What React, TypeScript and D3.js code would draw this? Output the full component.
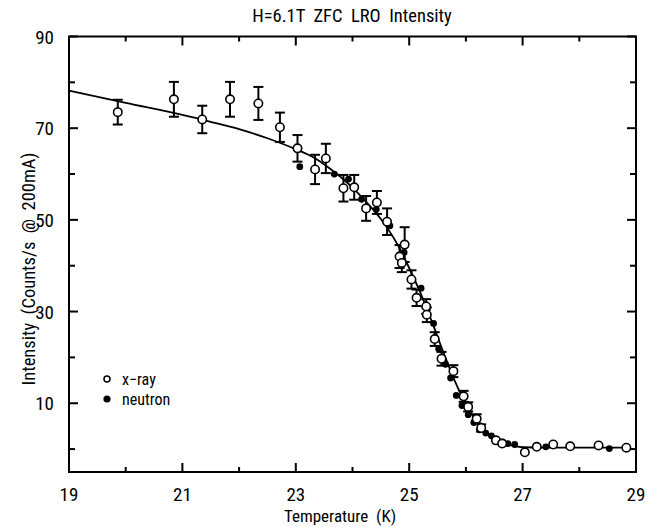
import React from "react";
import * as d3 from "d3";

const xrayT = [19.86, 20.85, 21.35, 21.84, 22.34, 22.72, 23.03, 23.34, 23.53, 23.84, 24.03, 24.24, 24.43, 24.61, 24.83, 24.87, 24.92, 25.04, 25.13, 25.3, 25.31, 25.45, 25.57, 25.78, 25.96, 26.04, 26.19, 26.27, 26.53, 26.64, 27.04, 27.25, 27.54, 27.84, 28.34, 28.83];
const xrayI = [73.5, 76.3, 71.9, 76.3, 75.4, 70.2, 65.6, 61.0, 63.4, 56.9, 57.1, 52.5, 53.8, 49.6, 42.0, 40.6, 44.6, 37.0, 33.0, 31.1, 29.3, 24.0, 19.7, 17.0, 11.5, 9.2, 6.6, 4.6, 1.9, 1.2, -0.7, 0.5, 1.0, 0.6, 0.8, 0.3];
const xrayErr = [2.7, 3.8, 3.0, 3.8, 3.6, 3.2, 2.9, 3.2, 3.2, 2.9, 2.7, 2.7, 2.5, 2.9, 2.5, 2.0, 3.8, 2.0, 1.8, 1.6, 1.6, 1.5, 1.5, 1.3, 1.2, 1.0, 1.0, 0.8, 0, 0, 0, 0, 0, 0, 0, 0];

const neutronT = [23.07, 23.68, 23.93, 24.16, 24.42, 24.66, 24.91, 25.21, 25.32, 25.43, 25.52, 25.64, 25.73, 25.83, 25.93, 26.04, 26.14, 26.24, 26.35, 26.45, 26.65, 26.74, 26.86, 27.41, 28.53];
const neutronI = [61.6, 60.0, 58.9, 54.5, 52.3, 48.7, 42.9, 35.1, 30.5, 27.4, 21.9, 18.5, 15.5, 11.7, 9.5, 7.5, 5.8, 4.2, 3.5, 2.9, 1.5, 1.2, 1.0, 0.5, 0.1];

const fitT = [19, 20, 21, 21.5, 22, 22.5, 23, 23.3, 23.6, 23.9, 24.2, 24.5, 24.8, 25.0, 25.2, 25.4, 25.6, 25.8, 26.0, 26.2, 26.4, 26.6, 26.8, 27.0, 27.5, 28.9];
const fitI = [78.2, 75.5, 72.9, 71.4, 69.8, 67.8, 65.4, 63.7, 61.2, 58.2, 54.5, 50.2, 44.5, 39.5, 34.0, 27.8, 21.2, 15.0, 9.8, 5.8, 3.2, 1.6, 0.8, 0.4, 0.3, 0.3];

const xTicks = [19, 20, 21, 22, 23, 24, 25, 26, 27, 28, 29];
const xLabels = [19, 21, 23, 25, 27, 29];
const yTicks = [0, 10, 20, 30, 40, 50, 60, 70, 80, 90];
const yLabels = [10, 30, 50, 70, 90];

const title = "H=6.1T  ZFC  LRO  Intensity";
const xTitle = "Temperature  (K)";
const yTitle = "Intensity  (Counts/s  @  200mA)";
const legendNames = ["x\u2212ray", "neutron"];

const FONT = "'Liberation Sans Narrow', 'Roboto Condensed', 'Liberation Sans', Arial, sans-serif";
const pre = { whiteSpace: "pre" as const };

export default function App() {
  const W = 659, H = 527;
  const x = d3.scaleLinear().domain([19, 29]).range([69, 636]);
  const y = d3.scaleLinear().domain([-5, 90]).range([472, 36.5]);
  const line = d3
    .line<number>()
    .x((_, i) => x(fitT[i]))
    .y((_, i) => y(fitI[i]))
    .curve(d3.curveMonotoneX);
  const x0 = x.range()[0], x1 = x.range()[1];
  const y0 = y.range()[0], y1 = y.range()[1];
  const cap = 5;
  return (
    <svg width={W} height={H} style={{ position: "absolute", left: 0, top: 0, background: "#fff" }} fontFamily={FONT}>
      <rect x={0} y={0} width={W} height={H} fill="#fff" />
      <text x={352} y={22} textAnchor="middle" fontSize={18.5} style={pre}>{title}</text>
      <rect x={x0} y={y1} width={x1 - x0} height={y0 - y1} fill="none" stroke="#000" strokeWidth={2} />
      {xTicks.map((t) => {
        const major = xLabels.includes(t);
        const len = major ? 9 : 5;
        return (
          <g key={"xt" + t}>
            <line x1={x(t)} x2={x(t)} y1={y0} y2={y0 - len} stroke="#000" strokeWidth={2} />
            <line x1={x(t)} x2={x(t)} y1={y1} y2={y1 + len} stroke="#000" strokeWidth={2} />
          </g>
        );
      })}
      {xLabels.map((t) => (
        <text key={"xl" + t} x={x(t)} y={501} textAnchor="middle" fontSize={19}>{t}</text>
      ))}
      {yTicks.map((t) => {
        const major = yLabels.includes(t);
        const len = major ? 9 : 6;
        return (
          <g key={"yt" + t}>
            <line x1={x0} x2={x0 + len} y1={y(t)} y2={y(t)} stroke="#000" strokeWidth={2} />
            <line x1={x1} x2={x1 - len} y1={y(t)} y2={y(t)} stroke="#000" strokeWidth={2} />
          </g>
        );
      })}
      {yLabels.map((t) => (
        <text key={"yl" + t} x={54} y={y(t) + 7} textAnchor="end" fontSize={19}>{t}</text>
      ))}
      <text x={340} y={522} textAnchor="middle" fontSize={17} style={pre}>{xTitle}</text>
      <text transform={`translate(35, 269) rotate(-90)`} textAnchor="middle" fontSize={18.5} style={pre}>{yTitle}</text>
      <path d={line(fitT) || ""} fill="none" stroke="#000" strokeWidth={1.8} />
      {xrayT.map((t, i) =>
        xrayErr[i] > 0 ? (
          <g key={"e" + i} stroke="#000" strokeWidth={2}>
            <line x1={x(t)} x2={x(t)} y1={y(xrayI[i] + xrayErr[i])} y2={y(xrayI[i] - xrayErr[i])} />
            <line x1={x(t) - cap} x2={x(t) + cap} y1={y(xrayI[i] + xrayErr[i])} y2={y(xrayI[i] + xrayErr[i])} />
            <line x1={x(t) - cap} x2={x(t) + cap} y1={y(xrayI[i] - xrayErr[i])} y2={y(xrayI[i] - xrayErr[i])} />
          </g>
        ) : null
      )}
      {neutronT.map((t, i) => (
        <circle key={"n" + i} cx={x(t)} cy={y(neutronI[i])} r={3.4} fill="#000" />
      ))}
      {xrayT.map((t, i) => (
        <circle key={"x" + i} cx={x(t)} cy={y(xrayI[i])} r={4.2} fill="#fff" stroke="#000" strokeWidth={1.6} />
      ))}
      <circle cx={107} cy={379} r={3} fill="#fff" stroke="#000" strokeWidth={1.5} />
      <text x={122} y={385} fontSize={16}>{legendNames[0]}</text>
      <circle cx={107} cy={399} r={3.6} fill="#000" />
      <text x={122} y={405} fontSize={16}>{legendNames[1]}</text>
    </svg>
  );
}
